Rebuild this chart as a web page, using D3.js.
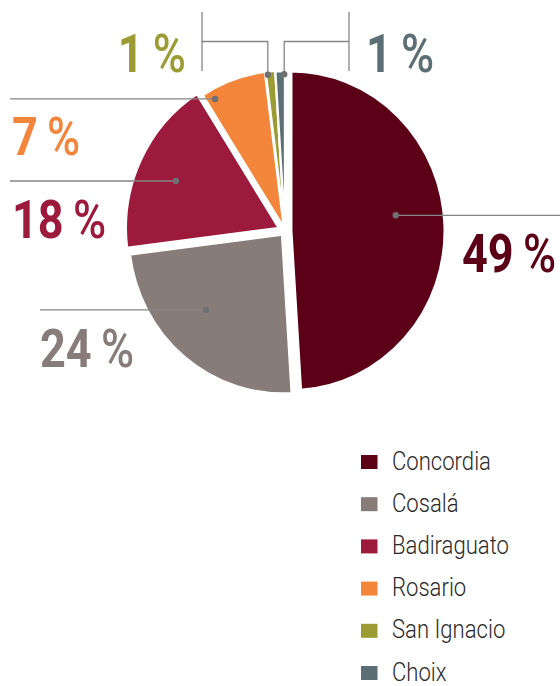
<!DOCTYPE html>
<html>
<head>
<meta charset="utf-8">
<script src="https://cdn.jsdelivr.net/npm/d3@7"></script>
<style>
  html, body { margin: 0; padding: 0; background: #ffffff; }
  svg { display: block; }
</style>
</head>
<body>
<div id="chart"></div>
<script>
// Municipal shares, clockwise from 12 o'clock
const categories = ["Concordia", "Cosalá", "Badiraguato", "Rosario", "San Ignacio", "Choix"];
const shares = [49, 24, 18, 7, 1, 1];
const percentLabels = ["49", "24", "18", "7", "1", "1"];
const sliceColors = ["#5b0016", "#877c79", "#9c1a3b", "#f4863c", "#9c9c35", "#5b6f74"];

const W = 560, H = 686;
const cx = 285, cy = 231, R = 160, sx = 0.965;   // pie drawn slightly narrow
const explode = [6, 4, 6, 1, 0.5, 0];            // outward offset of each wedge
const condense = 0.85;                           // horizontal squeeze for type

// Leader / label layout per wedge
const leaders = [
  { shift: -6.3, rf: 0.687, kind: "h", toX: 560, lx: 462, ly: 272, anchor: "start" },
  { shift:  6.7, rf: 0.686, kind: "h", toX: 40,  lx: 40,  ly: 367, anchor: "start" },
  { shift: -1.4, rf: 0.735, kind: "h", toX: 10,  lx: 12,  ly: 238, anchor: "start" },
  { shift: -9.0, rf: 0.935, kind: "h", toX: 10,  lx: 12,  ly: 155, anchor: "start" },
  { shift: -1.1, rf: 0.98,  kind: "b", elbowY: 41.5, toX: 202, barTop: 12, barBot: 71, lx: 186, ly: 72, anchor: "end" },
  { shift:  1.5, rf: 0.98,  kind: "b", elbowY: 41.5, toX: 349, barTop: 12, barBot: 71, lx: 366, ly: 72, anchor: "start" }
];

const svg = d3.select("#chart").append("svg")
  .attr("width", W).attr("height", H);

const pie = d3.pie().sort(null).value(d => d).startAngle(0).endAngle(2 * Math.PI);
const arcs = pie(shares);
const arc = d3.arc().innerRadius(0).outerRadius(R);

const pieG = svg.append("g")
  .attr("transform", `translate(${cx},${cy}) scale(${sx},1)`);

pieG.selectAll("path.slice")
  .data(arcs)
  .join("path")
  .attr("class", "slice")
  .attr("d", arc)
  .attr("fill", (d, i) => sliceColors[i])
  .attr("stroke", "#ffffff")
  .attr("stroke-width", d => d.value < 2 ? 2.4 : 3.5)
  .attr("stroke-linejoin", "miter")
  .attr("transform", (d, i) => {
    const mid = (d.startAngle + d.endAngle) / 2;
    return `translate(${explode[i] * Math.sin(mid)},${-explode[i] * Math.cos(mid)})`;
  });

// screen point inside wedge i at angle a (radians) and radius r
function wedgePoint(d, i, a, r) {
  const mid = (d.startAngle + d.endAngle) / 2;
  const ux = r * Math.sin(a) + explode[i] * Math.sin(mid);
  const uy = -r * Math.cos(a) - explode[i] * Math.cos(mid);
  return [cx + sx * ux, cy + uy];
}

const lineColor = "#858585";
const leaderG = svg.append("g");

arcs.forEach((d, i) => {
  const L = leaders[i];
  const mid = (d.startAngle + d.endAngle) / 2 + L.shift * Math.PI / 180;
  const [px, py] = wedgePoint(d, i, mid, L.rf * R);
  if (L.kind === "h") {
    leaderG.append("line")
      .attr("x1", px).attr("y1", py).attr("x2", L.toX).attr("y2", py)
      .attr("stroke", lineColor).attr("stroke-width", 1.3);
  } else {
    leaderG.append("path")
      .attr("d", `M${px},${py}V${L.elbowY}H${L.toX}`)
      .attr("fill", "none").attr("stroke", lineColor).attr("stroke-width", 1.3);
    leaderG.append("line")
      .attr("x1", L.toX).attr("y1", L.barTop).attr("x2", L.toX).attr("y2", L.barBot)
      .attr("stroke", lineColor).attr("stroke-width", 1.3);
  }
  leaderG.append("circle")
    .attr("cx", px).attr("cy", py).attr("r", 3.2)
    .attr("fill", "#6f7072");

  // percentage label
  const t = svg.append("text")
    .attr("transform", `translate(${L.lx},${L.ly}) scale(${condense},1)`)
    .attr("text-anchor", L.anchor)
    .attr("font-family", "Roboto, 'Liberation Sans', sans-serif")
    .attr("font-size", 53)
    .attr("fill", sliceColors[i]);
  t.append("tspan").attr("font-weight", 700).text(percentLabels[i] + "\u2009");
  t.append("tspan").attr("font-weight", 500).text("%");
});

// Legend
const legendY = d3.scalePoint()
  .domain(categories)
  .range([462, 673]);

const legend = svg.append("g");
categories.forEach((c, i) => {
  const y = legendY(c);
  legend.append("rect")
    .attr("x", 361).attr("y", y - 7)
    .attr("width", 16.5).attr("height", 14)
    .attr("fill", sliceColors[i]);
  legend.append("text")
    .attr("transform", `translate(392,${y + 7.5}) scale(${condense},1)`)
    .attr("font-family", "Roboto, 'Liberation Sans', sans-serif")
    .attr("font-size", 26)
    .attr("font-weight", 300)
    .attr("fill", "#2a2a2a")
    .text(c);
});
</script>
</body>
</html>
